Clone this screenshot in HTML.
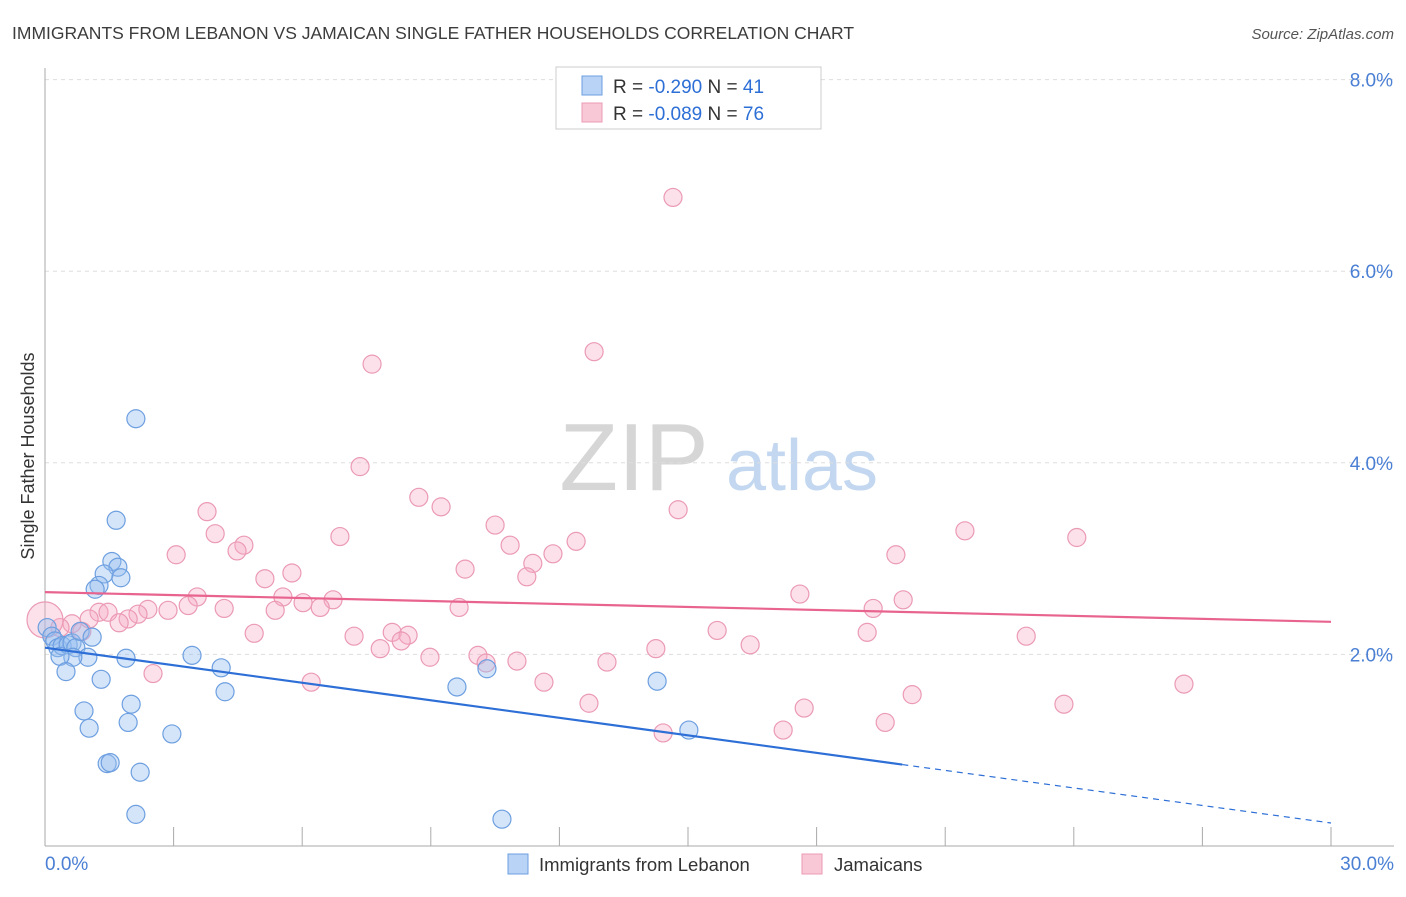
<!DOCTYPE html>
<html><head><meta charset="utf-8"><style>
body{margin:0;background:#fff;font-family:"Liberation Sans",sans-serif;}
svg text{font-family:"Liberation Sans",sans-serif;}
</style></head><body>
<svg id="chart" width="1406" height="892" xmlns="http://www.w3.org/2000/svg">
<text x="12" y="39" font-size="17.5" fill="#3c3c3c">IMMIGRANTS FROM LEBANON VS JAMAICAN SINGLE FATHER HOUSEHOLDS CORRELATION CHART</text>
<text x="1394" y="39" font-size="15" fill="#555" font-style="italic" text-anchor="end">Source: ZipAtlas.com</text>
<g>
<text x="634" y="490" font-size="96" fill="#d6d6d6" font-family="Liberation Serif" text-anchor="middle">ZIP</text>
<text x="802" y="490" font-size="72" fill="#c3d8f0" text-anchor="middle">atlas</text>
</g>
<g id="grid"></g>
<g id="axes"></g>
<g id="marks"></g>
<g>
<rect x="556" y="67" width="265" height="62" fill="#fff" stroke="#ccc"/>
<rect x="582" y="76" width="20" height="19" fill="#b8d3f5" stroke="#6d9fe0"/>
<text x="613" y="93" font-size="19" fill="#333">R = <tspan fill="#2d6fd6">-0.290</tspan>   N = <tspan fill="#2d6fd6">41</tspan></text>
<rect x="582" y="103" width="20" height="19" fill="#f8c8d6" stroke="#eb9ab4"/>
<text x="613" y="120" font-size="19" fill="#333">R = <tspan fill="#2d6fd6">-0.089</tspan>   N = <tspan fill="#2d6fd6">76</tspan></text>
</g>
<g>
<rect x="508" y="854" width="20" height="20" fill="#b8d3f5" stroke="#6d9fe0"/>
<text x="539" y="871" font-size="18.5" fill="#333">Immigrants from Lebanon</text>
<rect x="802" y="854" width="20" height="20" fill="#f8c8d6" stroke="#eb9ab4"/>
<text x="834" y="871" font-size="18.5" fill="#333">Jamaicans</text>
</g>
<text transform="translate(34,456) rotate(-90)" font-size="18" fill="#333" text-anchor="middle">Single Father Households</text>
</svg>
<script>
const yTicks=[2,4,6,8];
const yTickLabels=["2.0%","4.0%","6.0%","8.0%"];
const xTickLabels=["0.0%","30.0%"];
const blueX=[2.12,1.66,1.56,1.70,1.38,1.77,1.26,1.17,0.05,0.16,0.23,0.30,0.40,0.54,0.63,0.72,0.82,1.10,1.00,0.65,0.35,1.89,3.43,4.11,0.49,1.31,4.20,2.01,0.91,1.94,1.03,2.96,1.45,1.52,2.22,2.12,10.66,9.61,10.31,14.28,15.02];
const blueY=[4.46,3.40,2.97,2.91,2.84,2.80,2.72,2.68,2.28,2.19,2.14,2.07,2.09,2.10,2.12,2.07,2.24,2.18,1.97,1.97,1.98,1.96,1.99,1.86,1.82,1.74,1.61,1.48,1.41,1.29,1.23,1.17,0.86,0.87,0.77,0.33,0.28,1.66,1.85,1.72,1.21];
const pinkX=[14.65,12.81,7.63,7.35,8.72,9.24,3.78,14.77,10.50,3.97,6.88,10.85,4.64,4.48,21.46,24.07,3.06,12.39,11.85,19.85,11.38,9.80,5.76,5.13,11.24,3.55,5.55,17.61,20.02,3.34,6.02,6.72,2.40,2.87,4.18,5.37,6.42,9.66,19.32,1.26,1.47,2.17,1.94,1.73,1.03,0.63,0.35,0.86,0.0,4.88,7.21,8.10,8.47,8.31,7.82,15.68,19.18,22.89,16.45,14.25,8.98,10.10,10.29,11.01,13.11,2.52,6.21,11.64,26.57,20.23,12.69,17.71,23.77,19.60,14.42,17.22];
const pinkY=[6.77,5.16,5.03,3.96,3.64,3.54,3.49,3.51,3.35,3.26,3.23,3.14,3.14,3.08,3.29,3.22,3.04,3.18,3.05,3.04,2.95,2.89,2.85,2.79,2.81,2.60,2.60,2.63,2.57,2.51,2.54,2.57,2.47,2.46,2.48,2.46,2.49,2.49,2.48,2.44,2.44,2.42,2.37,2.33,2.37,2.32,2.28,2.24,2.36,2.22,2.19,2.23,2.20,2.14,2.06,2.25,2.23,2.19,2.10,2.06,1.97,1.99,1.91,1.93,1.92,1.80,1.71,1.71,1.69,1.58,1.49,1.44,1.48,1.29,1.18,1.21];
const blueTrend=[2.07,0.24];
const pinkTrend=[2.65,2.34];
const blueSolidEnd=20.0;

const NS="http://www.w3.org/2000/svg";
const X0=45,X1=1331,Y0=846,PXPER=95.8;
function sx(v){return X0+(v/30)*(X1-X0);}
function sy(v){return Y0-v*PXPER;}
function mk(tag,attrs,parent){const e=document.createElementNS(NS,tag);for(const k in attrs)e.setAttribute(k,attrs[k]);parent.appendChild(e);return e;}
const grid=document.getElementById('grid'),axes=document.getElementById('axes'),marks=document.getElementById('marks');
yTicks.forEach((t,i)=>{
 const l=mk('line',{x1:X0,x2:1394,y1:sy(t),y2:sy(t),stroke:'#ddd','stroke-dasharray':'4,4'},grid);
 
 
 const tx=mk('text',{x:1393,y:sy(t)+7,'font-size':19,fill:'#4a7fd4','text-anchor':'end'},axes);
 tx.textContent=yTickLabels[i];
 
 
});
const ya=mk('line',{x1:X0,x2:X0,y1:68,y2:Y0,stroke:'#aaa'},axes);


const xa=mk('line',{x1:X0,x2:1394,y1:Y0,y2:Y0,stroke:'#aaa'},axes);


for(let i=1;i<=10;i++){
 const t=mk('line',{x1:sx(i*3),x2:sx(i*3),y1:827,y2:Y0,stroke:'#aaa'},axes);
 
 
}
[[0,'start',45],[30,'end',1394]].forEach((d,i)=>{
 const tx=mk('text',{x:d[2],y:870,'font-size':19,fill:'#4a7fd4','text-anchor':d[1]},axes);
 tx.textContent=xTickLabels[i];
 
 
});
pinkX.forEach((x,i)=>{
 const c=mk('circle',{cx:sx(x),cy:sy(pinkY[i]),r:(i===48?18:9),fill:'rgba(245,170,195,0.35)',stroke:'#eb9ab4','stroke-width':1.2},marks);
 
 
});
blueX.forEach((x,i)=>{
 const c=mk('circle',{cx:sx(x),cy:sy(blueY[i]),r:9,fill:'rgba(150,190,240,0.4)',stroke:'#6d9fe0','stroke-width':1.2},marks);
 
 
});
function ty(tr,x){return tr[0]+(tr[1]-tr[0])*x/30;}
const pl=mk('line',{x1:sx(0),y1:sy(pinkTrend[0]),x2:sx(30),y2:sy(pinkTrend[1]),stroke:'#e8648f','stroke-width':2.2},marks);


const bl=mk('line',{x1:sx(0),y1:sy(blueTrend[0]),x2:sx(blueSolidEnd),y2:sy(ty(blueTrend,blueSolidEnd)),stroke:'#2d6fd6','stroke-width':2.2},marks);


const bd=mk('line',{x1:sx(blueSolidEnd),y1:sy(ty(blueTrend,blueSolidEnd)),x2:sx(30),y2:sy(blueTrend[1]),stroke:'#2d6fd6','stroke-width':1.2,'stroke-dasharray':'6,5'},marks);


</script>
</body></html>
